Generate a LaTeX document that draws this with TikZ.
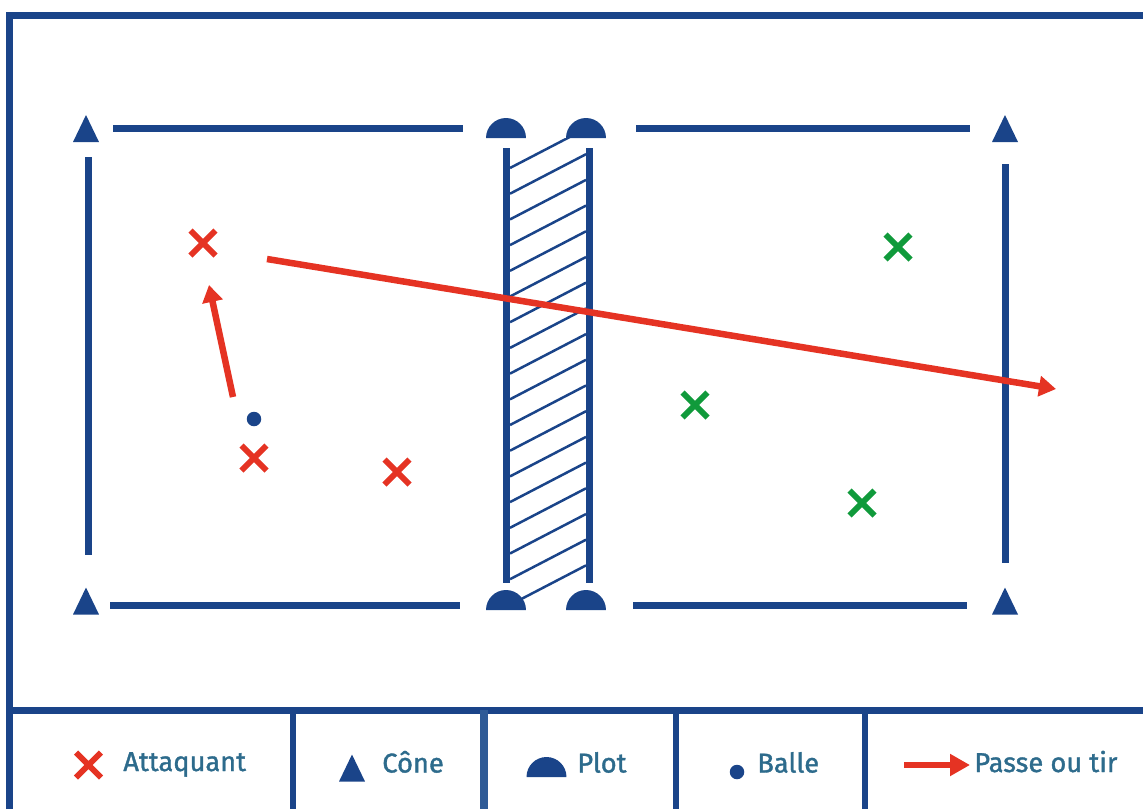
\documentclass[tikz,border=0pt]{standalone}
\usepackage{fontspec}
\setmainfont{Fira Sans}
\newfontfamily\legfont[FakeBold=1.3]{Fira Sans}
\usetikzlibrary{arrows.meta,shapes.misc}
\definecolor{fblue}{RGB}{26,68,137}
\definecolor{fblue2}{RGB}{47,91,151}
\definecolor{fred}{RGB}{229,51,35}
\definecolor{fgreen}{RGB}{16,154,59}
\definecolor{ftext}{RGB}{45,107,140}
\begin{document}
\begin{tikzpicture}[x=0.02cm,y=-0.02cm,
  bline/.style={fblue,line width=0.13cm},
  hatchline/.style={fblue,line width=0.05cm},
  cross/.style={cross out,draw=#1,line width=0.115cm,minimum size=0.5cm,inner sep=0pt,outer sep=0pt},
  ballnode/.style={circle,fill=fblue,minimum size=0.29cm,inner sep=0pt},
  passarrow/.style={fred,line width=0.13cm,-{Triangle[length=0.34cm,width=0.4cm]}},
  legtext/.style={anchor=base west,inner sep=0pt,text=ftext,font=\legfont\fontsize{15.5}{18}\selectfont},
  cone/.pic={\fill[fblue] (-13,13.5) -- (13,13.5) -- (0,-13.5) -- cycle;},
  plotpic/.pic={\fill[fblue] (-20,0) arc[start angle=180,end angle=0,radius=0.4cm] -- cycle;}
]
\useasboundingbox (0,0) rectangle (1143,809);
% outer frame and legend
\draw[bline] (9.5,809) -- (9.5,15.5) -- (1143,15.5);
\draw[bline] (9.5,710.5) -- (1143,710.5);
\draw[bline] (293,710) -- (293,809);
\draw[fblue2,line width=0.16cm] (484,710) -- (484,809);
\draw[bline] (676,710) -- (676,809);
\draw[bline] (865,710) -- (865,809);
% field lines
\draw[bline] (113,128.5) -- (463,128.5);
\draw[bline] (636,128.5) -- (970,128.5);
\draw[bline] (110,605.5) -- (460,605.5);
\draw[bline] (633,605.5) -- (967,605.5);
\draw[bline] (88.5,157) -- (88.5,555);
\draw[bline] (1005.5,164) -- (1005.5,563);
% cones
\pic (cTL) at (86,128.5) {cone};
\pic (cTR) at (1005,128.5) {cone};
\pic (cBL) at (86,601) {cone};
\pic (cBR) at (1005,601) {cone};
% net zone hatching
\begin{scope}
\clip (506,138) rectangle (590,600);
\foreach \k in {0,...,17} {
  \draw[hatchline] (510,{168+25.7*\k}) -- (586,{128.5+25.7*\k});
}
\end{scope}
\draw[fblue,line width=0.14cm] (506.5,148) -- (506.5,583);
\draw[fblue,line width=0.14cm] (589.5,148) -- (589.5,583);
% plots
\pic (pTL) at (506,138) {plotpic};
\pic (pTR) at (586,138) {plotpic};
\pic (pBL) at (506,610) {plotpic};
\pic (pBR) at (586,610) {plotpic};
% players
\node[cross=fred] (a1) at (203,243) {};
\node[cross=fred] (a2) at (254,458) {};
\node[cross=fred] (a3) at (397,472) {};
\node[cross=fgreen] (d1) at (898,247) {};
\node[cross=fgreen] (d2) at (695,405) {};
\node[cross=fgreen] (d3) at (862,503) {};
\node[ballnode] (ball) at (254,419) {};
% passes
\coordinate (s1) at (233,397);
\coordinate (e1) at (209,285);
\draw[passarrow] (s1) -- (e1);
\coordinate (s2) at (267,259);
\coordinate (e2) at (1056,389);
\draw[passarrow] (s2) -- (e2);
% legend
\node[cross=fred] (lx) at (88.5,765) {};
\node[legtext] (lt1) at (123,771) {Attaquant};
\pic (lc) at (352,768) {cone};
\node[legtext] (lt2) at (382,772.5) {Cône};
\pic (lp) at (546.5,777) {plotpic};
\node[legtext] (lt3) at (577,772.5) {Plot};
\node[ballnode] (lb) at (737,772) {};
\node[legtext] (lt4) at (757,772.5) {Balle};
\coordinate (ls) at (904,765);
\coordinate (le) at (970,765);
\draw[passarrow,-{Triangle[length=0.4cm,width=0.42cm]}] (ls) -- (le);
\node[legtext] (lt5) at (974,772) {Passe ou tir};
\end{tikzpicture}
\end{document}
